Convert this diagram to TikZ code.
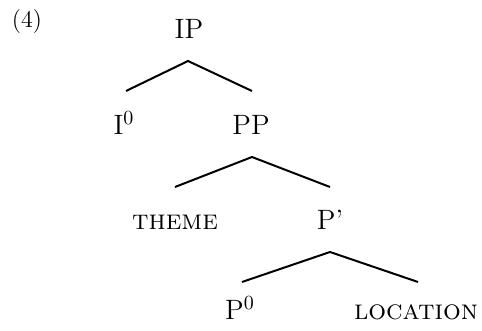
\documentclass[tikz,border=0pt]{standalone}
\begin{document}
\begin{tikzpicture}[x=0.5pt,y=-0.5pt,
  lbl/.style={anchor=base,inner sep=0pt,font=\fontsize{14}{17}\selectfont},
  edge/.style={line width=1pt}]
\useasboundingbox (0,0) rectangle (482,331);
\node[anchor=base,inner sep=0pt,font=\fontsize{12}{14}\selectfont] (ex) at (27,28) {(4)};
\node[lbl] (ip) at (189,39) {IP};
\node[lbl] (i0) at (124,135) {I$^0$};
\node[lbl] (pp) at (251,135) {PP};
\node[lbl] (th) at (175,230) {\textsc{theme}};
\node[lbl] (pb) at (330,230) {P'};
\node[lbl] (p0) at (240,320) {P$^0$};
\node[lbl] (loc) at (416,320) {\textsc{location}};
\coordinate (a1) at (188,61);
\coordinate (a1l) at (126,91);
\coordinate (a1r) at (252,91);
\coordinate (a2) at (252,157);
\coordinate (a2l) at (175,187);
\coordinate (a2r) at (330,187);
\coordinate (a3) at (330,252);
\coordinate (a3l) at (242,282);
\coordinate (a3r) at (418,282);
\draw[edge] (a1l) -- (a1) -- (a1r);
\draw[edge] (a2l) -- (a2) -- (a2r);
\draw[edge] (a3l) -- (a3) -- (a3r);
\end{tikzpicture}
\end{document}
